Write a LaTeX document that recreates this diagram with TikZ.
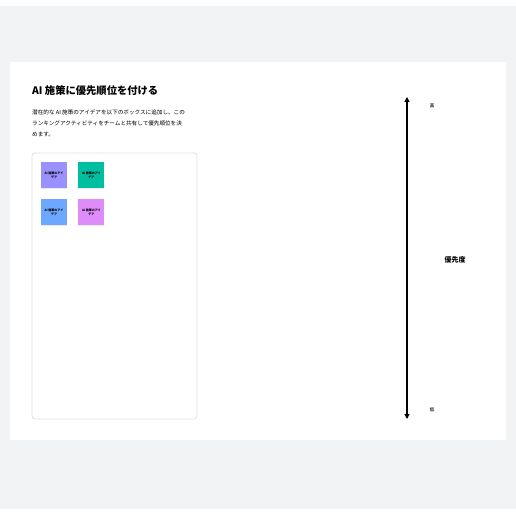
\documentclass[tikz,border=0pt]{standalone}
\usepackage{fontspec}
\setmainfont{Noto Sans CJK JP}
\usetikzlibrary{positioning,arrows.meta,shadows}
\definecolor{pagegray}{HTML}{F2F3F5}
\definecolor{notepurple}{HTML}{9A91FF}
\definecolor{noteteal}{HTML}{00BFA0}
\definecolor{noteblue}{HTML}{6CA8FF}
\definecolor{notepink}{HTML}{DE8CFA}
\tikzset{
  note/.style={minimum width=26pt, minimum height=26pt, inner sep=1pt,
    align=center, font=\fontsize{3}{4}\selectfont\bfseries,
    drop shadow={shadow xshift=0pt, shadow yshift=-1pt, fill=black!15}},
  tag/.style={font=\fontsize{4.5}{5}\selectfont\bfseries, text=black!75}
}
\begin{document}
\begin{tikzpicture}[x=1pt,y=-1pt]

  \useasboundingbox (0,0) rectangle (516,516);
  \fill[pagegray] (0,6) rectangle (516,509);
  \fill[white] (10,62) rectangle (506,440);

  %% heading
  \node[anchor=west, inner sep=0pt, font=\fontsize{10.3}{12}\selectfont\bfseries] (title) at (32,91) {AI 施策に優先順位を付ける};
  \node[anchor=north west, inner sep=0pt, align=left, font=\fontsize{5.6}{11}\selectfont] (intro) at (32,110)
    {潜在的な AI 施策のアイデアを以下のボックスに追加し、この\\
     ランキングアクティビティをチームと共有して優先順位を決\\
     めます。};

  %% box with notes
  \draw[black!12, rounded corners=3pt, line width=0.8pt] (32,153) rectangle (197,419);

  \node[note, fill=notepurple] (n1) at (54,175) {AI 施策のアイ\\デア};
  \node[note, fill=noteteal, right=11pt of n1] (n2) {AI 施策のアイ\\デア};
  \node[note, fill=noteblue, below=11pt of n1] (n3) {AI 施策のアイ\\デア};
  \node[note, fill=notepink, right=11pt of n3] (n4) {AI 施策のアイ\\デア};

  %% axis
  \coordinate (top) at (407,97);
  \coordinate (bot) at (407,419);
  \draw[{Triangle[width=5pt,length=5pt]}-{Triangle[width=5pt,length=5pt]}, line width=1.2pt] (top) -- (bot);
  \node[tag] (high) at (432,106) {高};
  \node[tag] (low) at (432,410) {低};
  \node[font=\fontsize{7}{8}\selectfont\bfseries] (axis) at (455,260) {優先度};

\end{tikzpicture}
\end{document}
